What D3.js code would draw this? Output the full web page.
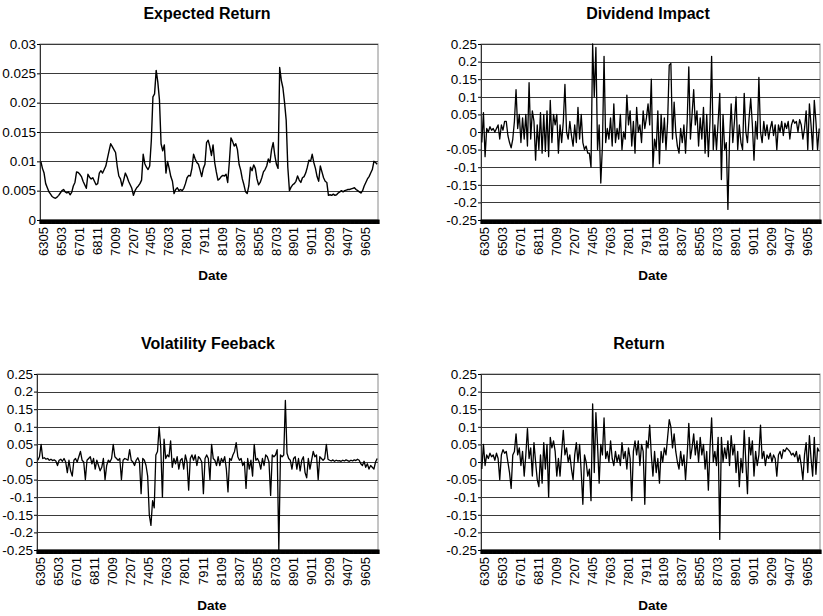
<!DOCTYPE html>
<html>
<head>
<meta charset="utf-8">
<script src="https://cdn.jsdelivr.net/npm/d3@7"></script>
<style>
  body { margin: 0; background: #fff; }
  text { font-family: "Liberation Sans", Arial, sans-serif; }
</style>
</head>
<body>
<script>
// monthly sample 6305 .. 9712, values read every second month
const monthCount = 416;
const xLabels = ["6305","6503","6701","6811","7009","7207","7405","7603","7801","7911","8109","8307","8505","8703","8901","9011","9209","9407","9605"];
const labelStep = 22;

const erTicks = [0, 0.005, 0.01, 0.015, 0.02, 0.025, 0.03];
const bigTicks = [-0.25, -0.2, -0.15, -0.1, -0.05, 0, 0.05, 0.1, 0.15, 0.2, 0.25];

const expectedReturn = [
0.0100,0.0088,0.0080,0.0062,0.0055,0.0048,0.0044,0.0040,0.0038,0.0037,
0.0039,0.0042,0.0046,0.0050,0.0052,0.0048,0.0046,0.0048,0.0043,0.0047,
0.0058,0.0064,0.0082,0.0081,0.0078,0.0074,0.0066,0.0060,0.0054,0.0078,
0.0073,0.0070,0.0072,0.0066,0.0060,0.0062,0.0080,0.0084,0.0080,0.0086,
0.0092,0.0105,0.0118,0.0130,0.0125,0.0120,0.0115,0.0092,0.0075,0.0070,
0.0058,0.0068,0.0080,0.0074,0.0066,0.0060,0.0054,0.0042,0.0050,0.0055,
0.0058,0.0062,0.0068,0.0112,0.0096,0.0090,0.0086,0.0092,0.0135,0.0210,
0.0215,0.0255,0.0235,0.0205,0.0130,0.0118,0.0128,0.0080,0.0100,0.0088,
0.0074,0.0066,0.0045,0.0052,0.0055,0.0050,0.0052,0.0050,0.0054,0.0062,
0.0072,0.0076,0.0075,0.0088,0.0112,0.0104,0.0098,0.0095,0.0085,0.0074,
0.0088,0.0095,0.0132,0.0136,0.0125,0.0110,0.0128,0.0098,0.0082,0.0068,
0.0070,0.0074,0.0076,0.0075,0.0078,0.0064,0.0098,0.0140,0.0134,0.0126,
0.0130,0.0120,0.0095,0.0085,0.0070,0.0060,0.0048,0.0045,0.0058,0.0090,
0.0084,0.0094,0.0088,0.0070,0.0060,0.0064,0.0072,0.0082,0.0086,0.0092,
0.0104,0.0098,0.0120,0.0132,0.0110,0.0095,0.0088,0.0260,0.0238,0.0225,
0.0200,0.0170,0.0090,0.0050,0.0056,0.0060,0.0062,0.0066,0.0075,0.0068,
0.0064,0.0072,0.0074,0.0080,0.0090,0.0102,0.0100,0.0112,0.0098,0.0088,
0.0074,0.0066,0.0092,0.0082,0.0072,0.0066,0.0064,0.0042,0.0043,0.0042,
0.0044,0.0042,0.0043,0.0046,0.0048,0.0050,0.0048,0.0050,0.0051,0.0052,
0.0052,0.0053,0.0054,0.0055,0.0052,0.0050,0.0048,0.0046,0.0050,0.0058,
0.0064,0.0070,0.0074,0.0080,0.0086,0.0100,0.0098,0.0095
];

const dividendImpact = [
-0.03,0.055,-0.07,0.01,0.00,0.015,0.005,0.01,0.00,0.01,
0.02,-0.02,0.02,0.005,0.03,0.03,-0.01,-0.03,-0.045,-0.02,
0.03,0.12,0.01,0.05,-0.03,0.04,-0.02,0.05,-0.04,0.14,
-0.02,0.06,0.03,-0.08,0.02,-0.05,0.055,-0.06,0.05,-0.055,
0.06,-0.07,0.09,-0.03,0.05,0.02,0.05,-0.06,0.02,-0.03,
0.03,0.135,0.00,-0.02,0.03,-0.01,-0.04,0.02,-0.03,0.07,
-0.02,0.05,-0.03,-0.05,-0.04,-0.06,-0.06,-0.10,0.25,0.10,
0.24,-0.05,0.02,-0.145,-0.04,0.215,-0.03,0.01,-0.02,0.04,
-0.04,0.08,-0.03,0.01,-0.02,0.05,-0.05,0.00,-0.02,0.105,
0.02,0.06,-0.04,0.03,-0.06,0.07,0.00,0.02,-0.03,0.06,
0.01,0.04,0.08,0.02,0.15,-0.10,-0.02,-0.05,0.06,-0.09,
0.05,-0.03,0.04,-0.05,0.03,0.19,0.195,-0.02,0.085,0.00,
-0.04,-0.06,0.01,-0.03,0.02,-0.06,0.03,0.185,-0.02,0.05,
0.12,0.02,0.06,-0.04,0.04,-0.02,0.07,-0.06,0.05,-0.07,
0.03,0.215,-0.05,0.02,-0.05,0.03,0.11,-0.135,0.05,-0.05,
-0.03,-0.22,-0.02,0.08,-0.03,0.03,0.10,-0.05,0.02,-0.03,
-0.05,0.11,0.00,-0.03,0.04,0.095,0.02,-0.08,0.03,-0.02,
0.155,0.00,-0.03,0.03,-0.01,0.02,-0.02,0.01,0.03,-0.01,
0.02,-0.05,0.02,0.00,0.03,-0.01,0.025,0.01,0.03,-0.02,
0.02,0.035,0.025,0.03,0.00,0.035,0.02,-0.02,0.01,0.06,
-0.05,0.08,0.02,-0.05,0.09,0.03,-0.05,0.01
];

const volatilityFeedback = [
0.005,0.015,0.05,0.01,0.012,0.008,0.01,0.005,0.008,0.004,
0.006,0.003,-0.01,0.005,0.008,0.002,0.01,0.0,-0.03,0.005,
-0.025,-0.04,0.005,0.01,0.0,0.015,0.03,0.005,0.0,-0.05,
0.005,0.01,0.015,-0.005,0.01,-0.02,0.005,-0.01,-0.025,-0.015,
0.01,-0.05,-0.01,0.005,0.0,0.01,0.05,0.015,0.01,0.005,
0.01,-0.05,0.005,0.01,0.008,0.005,0.035,0.005,0.0,-0.01,
0.005,0.012,0.0,-0.09,0.01,0.005,-0.01,-0.04,-0.15,-0.18,
-0.11,-0.13,0.02,0.03,0.10,0.04,-0.10,0.065,0.01,0.02,
0.015,0.06,-0.015,0.01,-0.005,0.015,-0.02,0.005,0.01,-0.02,
0.02,0.0,-0.08,0.01,0.02,0.005,0.02,-0.01,0.015,0.01,
0.0,-0.09,0.01,0.02,0.01,-0.05,0.05,0.01,0.005,-0.01,
0.015,-0.01,0.01,0.0,0.015,-0.02,-0.085,0.01,0.005,0.02,
0.03,0.055,0.015,0.005,0.01,-0.01,0.0,-0.075,0.01,-0.02,
0.005,-0.04,0.05,0.005,0.01,0.0,-0.02,0.01,-0.01,0.02,
0.015,0.0,-0.095,0.02,0.015,0.02,0.035,-0.25,0.02,0.015,
0.02,0.175,0.025,0.01,0.005,-0.02,0.01,0.015,-0.02,0.01,
-0.025,0.005,0.015,-0.03,-0.045,0.01,-0.02,0.005,0.03,0.015,
0.02,-0.05,0.015,0.01,0.005,0.01,0.05,0.008,0.005,0.003,
0.006,0.002,0.005,0.003,0.004,0.002,0.005,0.003,0.006,0.004,
0.002,0.005,0.003,0.006,0.004,0.008,0.005,-0.005,-0.01,0.002,
-0.015,-0.005,-0.02,-0.01,-0.015,-0.02,0.0,0.01
];

const totalReturn = [
-0.02,0.05,-0.01,0.02,0.01,0.025,0.015,0.02,0.005,0.025,
0.01,-0.05,0.02,0.035,0.025,0.03,0.0,-0.03,-0.075,0.02,
0.03,0.08,0.02,0.04,-0.01,0.03,-0.04,0.02,0.095,0.01,
0.04,-0.04,0.055,0.0,-0.05,-0.07,0.02,-0.06,0.055,-0.02,
0.05,-0.10,0.07,0.04,0.06,0.03,-0.04,0.01,-0.04,0.03,
0.09,0.02,0.04,0.0,0.02,-0.02,-0.05,0.02,0.055,0.0,
0.05,-0.03,-0.12,0.02,0.0,-0.04,-0.02,-0.11,0.165,-0.03,
0.14,0.05,-0.06,0.05,0.02,0.125,0.01,0.03,0.0,0.06,
0.01,-0.01,0.03,0.0,0.02,-0.01,0.055,0.01,0.03,-0.02,
0.04,0.01,-0.11,0.03,0.06,0.02,0.06,-0.01,0.05,0.03,
-0.12,0.06,0.04,0.105,0.02,-0.04,0.03,-0.03,0.01,-0.06,
0.03,0.0,0.04,0.02,0.07,0.12,0.10,0.04,0.08,0.03,
0.0,-0.02,0.03,-0.01,0.02,-0.05,0.02,0.11,0.01,0.04,
0.08,0.02,0.06,0.0,0.07,0.02,0.05,-0.02,0.03,-0.08,
0.04,0.125,0.0,0.03,-0.01,0.07,-0.22,0.07,0.0,0.04,
0.01,0.06,-0.01,0.075,0.02,0.05,-0.03,0.03,-0.07,0.01,
-0.03,0.09,0.0,-0.09,0.07,0.02,0.06,-0.04,0.03,-0.01,
0.02,0.105,0.01,0.03,-0.01,0.02,0.01,0.025,0.0,0.02,
0.01,-0.04,0.02,0.03,0.01,0.035,0.03,0.04,0.035,0.03,
0.02,0.025,0.015,0.03,0.0,0.02,-0.01,-0.05,0.02,0.055,
-0.03,0.075,0.01,-0.04,0.07,-0.035,0.04,0.03
];

function fmt(d){ return String(+d.toFixed(3)); }

function drawPanel(svg, cfg){
	const x = d3.scaleLinear().domain([0, monthCount]).range([cfg.left, cfg.right]);
	const y = d3.scaleLinear().domain(cfg.domain).range([cfg.bottom, cfg.top]);
	const g = svg.append("g");

	// plot background + border
	g.append("rect")
		.attr("x", cfg.left).attr("y", cfg.top)
		.attr("width", cfg.right - cfg.left).attr("height", cfg.bottom - cfg.top)
		.attr("fill", "#fff").attr("stroke", "#8a8a8a").attr("stroke-width", 1);

	// horizontal gridlines
	g.selectAll("line.grid").data(cfg.ticks.slice(1)).enter().append("line")
		.attr("x1", cfg.left).attr("x2", cfg.right)
		.attr("y1", d => Math.round(y(d)) + 0.5).attr("y2", d => Math.round(y(d)) + 0.5)
		.attr("stroke", "#3a3a3a").attr("stroke-width", 1);

	// y axis
	const yAxis = g.append("g")
		.attr("transform", `translate(${cfg.left},0)`)
		.call(d3.axisLeft(y).tickValues(cfg.ticks).tickSize(3).tickPadding(1).tickFormat(fmt));
	yAxis.select(".domain").attr("stroke", "#333");
	yAxis.selectAll("text")
		.attr("font-size", "13.5px").attr("fill", "#000")
		.style("font-family", "'Liberation Sans', Arial, sans-serif");

	// line
	const line = d3.line()
		.x((d, i) => x(2 * i + 1))
		.y(d => y(d));
	g.append("path")
		.datum(cfg.values)
		.attr("fill", "none").attr("stroke", "#000")
		.attr("stroke-width", cfg.lw || 1.3)
		.attr("stroke-linejoin", "round")
		.attr("d", line);

	// x axis: one tick per month gives the solid bar
	const xAxis = g.append("g")
		.attr("transform", `translate(0,${cfg.bottom})`)
		.call(d3.axisBottom(x).tickValues(d3.range(monthCount + 1)).tickSize(4).tickFormat(""));
	xAxis.select(".domain").attr("stroke", "#000").attr("stroke-width", 2);
	xAxis.selectAll(".tick line").attr("stroke", "#000").attr("stroke-width", 1.5);

	// date labels every 22 months
	g.selectAll("text.xl").data(xLabels).enter().append("text")
		.attr("class", "xl")
		.attr("transform", (d, i) => `translate(${x(i * labelStep + 0.5)},${cfg.bottom + 7}) rotate(-90)`)
		.attr("text-anchor", "end")
		.attr("dy", "0.6em")
		.attr("font-size", "13px")
		.text(d => d);

	g.append("text")
		.attr("x", cfg.titleX).attr("y", cfg.top - 25)
		.attr("text-anchor", "middle")
		.attr("font-size", "16px").attr("font-weight", "bold")
		.text(cfg.title);

	g.append("text")
		.attr("x", cfg.dateX).attr("y", cfg.bottom + 60)
		.attr("text-anchor", "middle")
		.attr("font-size", "13.5px").attr("font-weight", "bold")
		.text("Date");
}

function init(){
	const svg = d3.select("body").append("svg")
		.attr("width", 823)
		.attr("height", 616)
		.style("background-color", "#fff");

	drawPanel(svg, { title: "Expected Return", values: expectedReturn, domain: [0, 0.03], ticks: erTicks,
		left: 40, right: 378, top: 44, bottom: 220, titleX: 207, dateX: 213, lw: 1.4 });
	drawPanel(svg, { title: "Dividend Impact", values: dividendImpact, domain: [-0.25, 0.25], ticks: bigTicks,
		left: 481, right: 820, top: 44, bottom: 220, titleX: 648, dateX: 653 });
	drawPanel(svg, { title: "Volatility Feeback", values: volatilityFeedback, domain: [-0.25, 0.25], ticks: bigTicks,
		left: 37, right: 378, top: 374, bottom: 550, titleX: 208, dateX: 212 });
	drawPanel(svg, { title: "Return", values: totalReturn, domain: [-0.25, 0.25], ticks: bigTicks,
		left: 481, right: 820, top: 374, bottom: 550, titleX: 639, dateX: 653 });
}
init();
</script>
</body>
</html>
